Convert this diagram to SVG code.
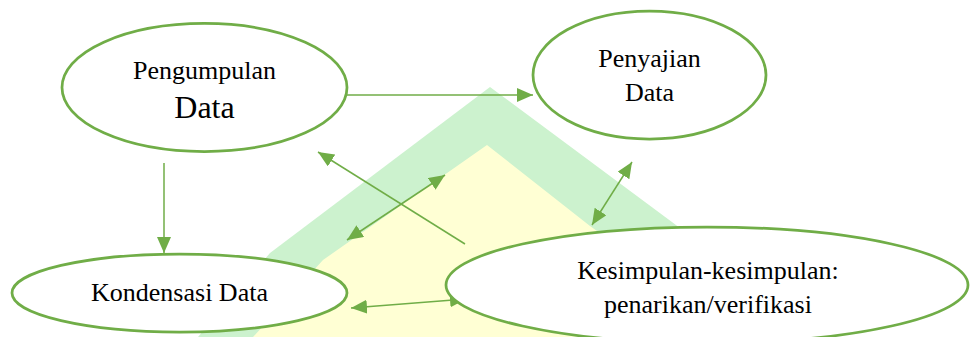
<svg xmlns="http://www.w3.org/2000/svg" width="971" height="337" viewBox="0 0 971 337">
<style>
.node ellipse{fill:#ffffff;stroke:#70ad47;stroke-width:2.75}
.node text{font-family:"Liberation Serif","DejaVu Serif",serif;font-size:26px;fill:#000;text-anchor:middle}
.node text.big{font-size:32px}
.conn line{stroke:#70ad47;stroke-width:1.5}
</style>
<defs>
<marker id="ah" markerUnits="userSpaceOnUse" markerWidth="17" markerHeight="15" refX="16" refY="7" orient="auto-start-reverse" viewBox="0 0 17 15">
<path d="M0,0 L16,7 L0,14 z" fill="#70ad47"/>
</marker>
</defs>
<rect width="971" height="337" fill="#ffffff"/>
<g id="watermark">
<polygon points="490,87 680,228 700,337 198,337 270,253" fill="#ccf2ce"/>
<polygon points="487,145 590,226 680,290 700,337 253,337 323,260" fill="#ffffd4"/>
</g>
<g class="conn" id="connectors">
<line x1="347" y1="95" x2="533" y2="95" marker-end="url(#ah)"/>
<line x1="164" y1="163" x2="164" y2="253" marker-end="url(#ah)"/>
<line x1="465" y1="244" x2="318" y2="152" marker-end="url(#ah)"/>
<line x1="347" y1="240" x2="445" y2="175" marker-start="url(#ah)" marker-end="url(#ah)"/>
<line x1="632" y1="162" x2="592" y2="225" marker-start="url(#ah)" marker-end="url(#ah)"/>
<line x1="351" y1="308" x2="466" y2="299" marker-start="url(#ah)" marker-end="url(#ah)"/>
</g>
<g class="node" id="pengumpulan">
<ellipse cx="204.5" cy="87.5" rx="142.5" ry="64"/>
<text x="204.5" y="79">Pengumpulan</text>
<text class="big" x="204.5" y="118">Data</text>
</g>
<g class="node" id="penyajian">
<ellipse cx="649.5" cy="75" rx="116.5" ry="64"/>
<text x="649.5" y="67">Penyajian</text>
<text x="649.5" y="101">Data</text>
</g>
<g class="node" id="kondensasi">
<ellipse cx="179.5" cy="293" rx="167.5" ry="39"/>
<text x="179.5" y="301">Kondensasi Data</text>
</g>
<g class="node" id="kesimpulan">
<ellipse cx="707" cy="285" rx="261" ry="58"/>
<text x="708" y="279">Kesimpulan-kesimpulan:</text>
<text x="708" y="313">penarikan/verifikasi</text>
</g>
</svg>
